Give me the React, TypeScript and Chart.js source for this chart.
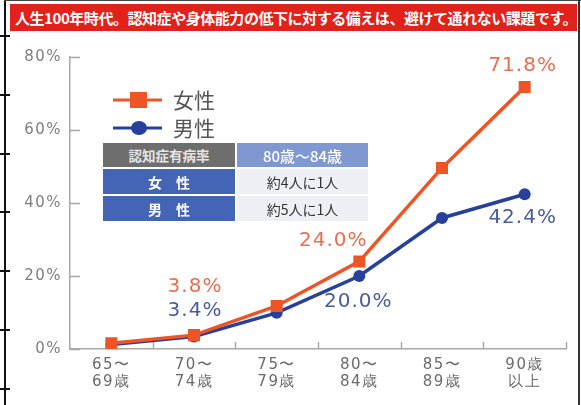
import React, { useEffect, useRef } from 'react';
import { Chart, registerables } from 'chart.js';

Chart.register(...registerables);

// ---- data ----
const categories: string[][] = [
  ['65〜', '69歳'],
  ['70〜', '74歳'],
  ['75〜', '79歳'],
  ['80〜', '84歳'],
  ['85〜', '89歳'],
  ['90歳', '以上'],
];
const seriesNames = ['女性', '男性'];
const femaleValues = [1.6, 3.8, 11.8, 24.0, 49.6, 71.8];
const maleValues = [1.2, 3.4, 9.9, 20.0, 35.9, 42.4];
const labeledIndices = [1, 3, 5];
const yMin = 0;
const yMax = 80;
const yStep = 20;
const titleText = '人生100年時代。認知症や身体能力の低下に対する備えは、避けて通れない課題です。';
const tableHeader = ['認知症有病率', '80歳〜84歳'];
const tableRows = [
  ['女　性', '約4人に1人'],
  ['男　性', '約5人に1人'],
];

// ---- styles ----
const FEMALE_LINE = '#EE5526';
const MALE_LINE = '#27419A';
const FEMALE_LABEL = '#EA6E50';
const MALE_LABEL = '#4A5C9C';
const AXIS_COLOR = '#A8A8A8';
const NUM_FONT = '"DejaVu Sans", sans-serif';
const JP_FONT = '"Noto Sans CJK JP", sans-serif';

// label offsets (px) relative to the point, per dataset, per labeled index
const labelOffsets: Record<number, [number, number]>[] = [
  { 1: [1, -48], 3: [-26, -21], 5: [-2, -21] },
  { 1: [1, -26], 3: [-1, 26], 5: [-2, 24] },
];

const letterSpacingPlugin = {
  id: 'letterSpacing',
  beforeDraw(chart: any) {
    (chart.ctx as any).letterSpacing = '1.5px';
  },
};

const inwardTicks = {
  id: 'inwardTicks',
  beforeDatasetsDraw(chart: any) {
    const { ctx, chartArea, scales } = chart;
    ctx.save();
    ctx.strokeStyle = AXIS_COLOR;
    ctx.lineWidth = 1.5;
    const y = scales.y;
    y.ticks.forEach((t: any) => {
      const py = Math.round(y.getPixelForValue(t.value)) + 0.5;
      ctx.beginPath();
      ctx.moveTo(chartArea.left, py);
      ctx.lineTo(chartArea.left + 10, py);
      ctx.stroke();
    });
    const n = categories.length;
    const w = (chartArea.right - chartArea.left) / n;
    for (let i = 1; i <= n; i++) {
      const px = Math.round(chartArea.left + i * w) + 0.5;
      ctx.beginPath();
      ctx.moveTo(px, chartArea.bottom);
      ctx.lineTo(px, chartArea.bottom - 7);
      ctx.stroke();
    }
    ctx.restore();
  },
};

const dataLabels = {
  id: 'dataLabels',
  afterDatasetsDraw(chart: any) {
    const { ctx } = chart;
    ctx.save();
    (ctx as any).letterSpacing = '1px';
    ctx.font = '20px ' + NUM_FONT;
    ctx.textAlign = 'center';
    ctx.textBaseline = 'middle';
    chart.data.datasets.forEach((ds: any, di: number) => {
      const meta = chart.getDatasetMeta(di);
      labeledIndices.forEach((idx) => {
        const el = meta.data[idx];
        const off = labelOffsets[di][idx] || [0, -20];
        ctx.fillStyle = di === 0 ? FEMALE_LABEL : MALE_LABEL;
        ctx.fillText(ds.data[idx].toFixed(1) + '%', el.x + off[0], el.y + off[1]);
      });
    });
    ctx.restore();
  },
};

const customLegend = {
  id: 'customLegend',
  afterDraw(chart: any) {
    const { ctx } = chart;
    const rows = [100, 128];
    ctx.save();
    (ctx as any).letterSpacing = '0px';
    chart.data.datasets.forEach((ds: any, di: number) => {
      const y = rows[di];
      ctx.strokeStyle = ds.borderColor;
      ctx.lineWidth = 3;
      ctx.beginPath();
      ctx.moveTo(113, y);
      ctx.lineTo(162, y);
      ctx.stroke();
      ctx.fillStyle = ds.borderColor;
      if (ds.pointStyle === 'rect') {
        ctx.fillRect(130, y - 8, 17, 16);
      } else {
        ctx.beginPath();
        ctx.ellipse(139, y, 8, 7, 0, 0, Math.PI * 2);
        ctx.fill();
      }
      ctx.fillStyle = '#555';
      ctx.font = '21px ' + JP_FONT;
      ctx.textAlign = 'left';
      ctx.textBaseline = 'middle';
      ctx.fillText(ds.label, 173, y);
    });
    ctx.restore();
  },
};

export default function App() {
  const canvasRef = useRef<HTMLCanvasElement | null>(null);

  useEffect(() => {
    document.body.style.margin = '0';
    const canvas = canvasRef.current;
    if (!canvas) return;
    const chart = new Chart(canvas, {
      type: 'line',
      data: {
        labels: categories,
        datasets: [
          {
            label: seriesNames[0],
            data: femaleValues,
            borderColor: FEMALE_LINE,
            backgroundColor: FEMALE_LINE,
            borderWidth: 3.5,
            pointStyle: 'rect',
            pointRadius: 8.5,
            pointHoverRadius: 8.5,
            pointBorderWidth: 0,
            tension: 0,
          },
          {
            label: seriesNames[1],
            data: maleValues,
            borderColor: MALE_LINE,
            backgroundColor: MALE_LINE,
            borderWidth: 3.5,
            pointStyle: 'circle',
            pointRadius: 6,
            pointHoverRadius: 6,
            pointBorderWidth: 0,
            tension: 0,
          },
        ],
      },
      options: {
        animation: false,
        responsive: false,
        devicePixelRatio: 1,
        layout: { padding: { top: 57, right: 15, bottom: 0, left: 0 } },
        plugins: {
          legend: { display: false },
          tooltip: { enabled: false },
          title: { display: false },
        },
        scales: {
          x: {
            offset: true,
            grid: { display: false, drawTicks: false },
            border: { display: true, color: AXIS_COLOR, width: 1.5 },
            ticks: {
              color: '#6A6A6A',
              font: { family: NUM_FONT, size: 15, lineHeight: 1.15 },
              padding: 7,
              maxRotation: 0,
              autoSkip: false,
            },
            afterFit(scale: any) {
              scale.height = 56;
            },
          },
          y: {
            min: yMin,
            max: yMax,
            grid: { display: false, drawTicks: false },
            border: { display: true, color: AXIS_COLOR, width: 1.5 },
            ticks: {
              stepSize: yStep,
              color: '#7E7E7E',
              font: { family: NUM_FONT, size: 15 },
              padding: 8,
              callback: (v: any) => v + '%',
            },
            afterFit(scale: any) {
              scale.width = 70;
            },
          },
        },
      },
      plugins: [letterSpacingPlugin, inwardTicks, dataLabels, customLegend],
    });
    return () => chart.destroy();
  }, []);

  const cell = (bg: string, color: string, extra: any = {}) => ({
    position: 'absolute' as const,
    background: bg,
    color,
    display: 'flex',
    alignItems: 'center',
    justifyContent: 'center',
    fontFamily: JP_FONT,
    ...extra,
  });

  return (
    <div style={{ position: 'absolute', left: 0, top: 0, width: 581, height: 405, background: '#fff', overflow: 'hidden' }}>
      <canvas ref={canvasRef} width={581} height={405} style={{ position: 'absolute', left: 0, top: 0, width: 581, height: 405 }} />
      {/* title banner */}
      <div
        style={{
          position: 'absolute', left: 10, top: 4, width: 567, height: 27,
          background: '#E2211B', color: '#fff', fontFamily: JP_FONT, fontWeight: 700,
          fontSize: 15, letterSpacing: -0.45, lineHeight: '27px', paddingLeft: 5, boxSizing: 'border-box', whiteSpace: 'nowrap', overflow: 'hidden',
        }}
      >
        {titleText}
      </div>
      {/* table */}
      <div style={cell('#6E6E6E', '#E4E4E4', { left: 103, top: 143, width: 132, height: 24, fontSize: 13.5, fontWeight: 700 })}>{tableHeader[0]}</div>
      <div style={cell('#7F98D2', '#fff', { left: 237, top: 143, width: 131, height: 24, fontSize: 15, fontWeight: 500 })}>{tableHeader[1]}</div>
      {tableRows.map((r, i) => (
        <React.Fragment key={i}>
          <div style={cell('#4465B6', '#fff', { left: 103, top: 169 + i * 27, width: 132, height: 25, fontSize: 14, fontWeight: 700, whiteSpace: 'pre' })}>{r[0]}</div>
          <div style={cell('#EEF0F6', '#333', { left: 237, top: 169 + i * 27, width: 131, height: 25, fontSize: 14 })}>{r[1]}</div>
        </React.Fragment>
      ))}
      {/* page frame lines */}
      <div style={{ position: 'absolute', left: 4, top: 0, width: 2, height: 405, background: '#111' }} />
      <div style={{ position: 'absolute', left: 4, top: 0, width: 577, height: 1, background: '#444' }} />
      <div style={{ position: 'absolute', left: 578, top: 0, width: 2, height: 405, background: '#333' }} />
      {[35, 94, 153, 211, 270, 329, 388].map((y) => (
        <div key={y} style={{ position: 'absolute', left: 0, top: y, width: 10, height: 2, background: '#111' }} />
      ))}
    </div>
  );
}
